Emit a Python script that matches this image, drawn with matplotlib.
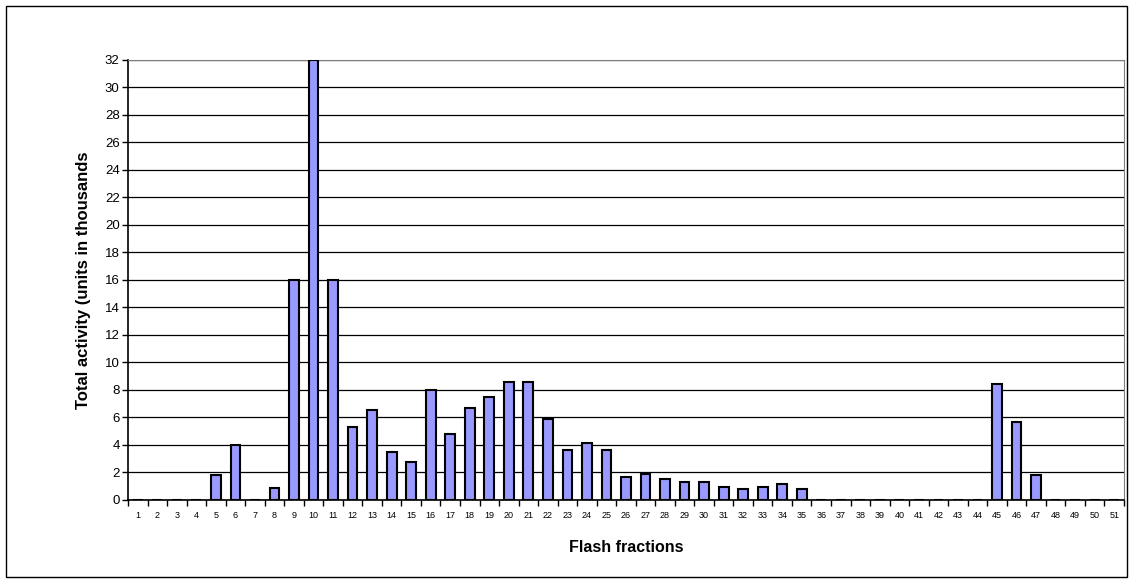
import numpy as np
import matplotlib.pyplot as plt
from matplotlib.patches import Rectangle

plt.rcParams['font.family'] = ['Liberation Sans', 'DejaVu Sans']

# flash fraction number and its activity (thousands)
fractions = list(range(1, 52))
activity = [0, 0, 0, 0, 1.85, 4.0, 0, 0.85, 16.0, 32.0,
            16.0, 5.33, 6.52, 3.51, 2.76, 8.0, 4.78, 6.72, 7.49, 8.6,
            8.6, 5.89, 3.66, 4.15, 3.66, 1.7, 1.92, 1.55, 1.28, 1.28,
            0.95, 0.8, 0.95, 1.14, 0.8, 0, 0, 0, 0, 0,
            0, 0, 0, 0, 8.41, 5.7, 1.79, 0, 0, 0, 0]
yticks = list(range(0, 33, 2))

fig = plt.figure(figsize=(11.33, 5.83), dpi=100)
ax = fig.add_axes([0.113, 0.1424, 0.879, 0.7547])

ax.bar(fractions, activity, width=0.5, color='#9999ff', edgecolor='black',
       linewidth=1.5, zorder=3)

ax.set_xlim(0.5, 51.5)
ax.set_ylim(0, 32)
ax.set_yticks(yticks)
ax.yaxis.grid(True, color='black', linewidth=0.9, zorder=0)

# category labels centred, tick marks between categories
ax.set_xticks(fractions)
ax.set_xticklabels([str(f) for f in fractions], fontsize=6.5)
ax.set_xticks(np.arange(0.5, 52, 1), minor=True)
ax.tick_params(axis='x', which='major', length=0, pad=8)
ax.tick_params(axis='x', which='minor', length=4, width=1, direction='out')
ax.tick_params(axis='y', length=4, width=1, labelsize=9.5, pad=2)

for side in ['top', 'right']:
    ax.spines[side].set_color('#808080')
for side in ['left', 'bottom']:
    ax.spines[side].set_color('black')
    ax.spines[side].set_linewidth(1.2)

ax.set_xlabel('Flash fractions', fontsize=11.5, fontweight='bold', labelpad=14)
ax.set_ylabel('Total activity (units in thousands', fontsize=12, fontweight='bold',
              labelpad=10)

fig.patches.append(Rectangle((6 / 1133, 6 / 583), 1121 / 1133, 571 / 583,
                             transform=fig.transFigure, fill=False,
                             edgecolor='black', linewidth=1))

fig.savefig('out.png', dpi=100)
